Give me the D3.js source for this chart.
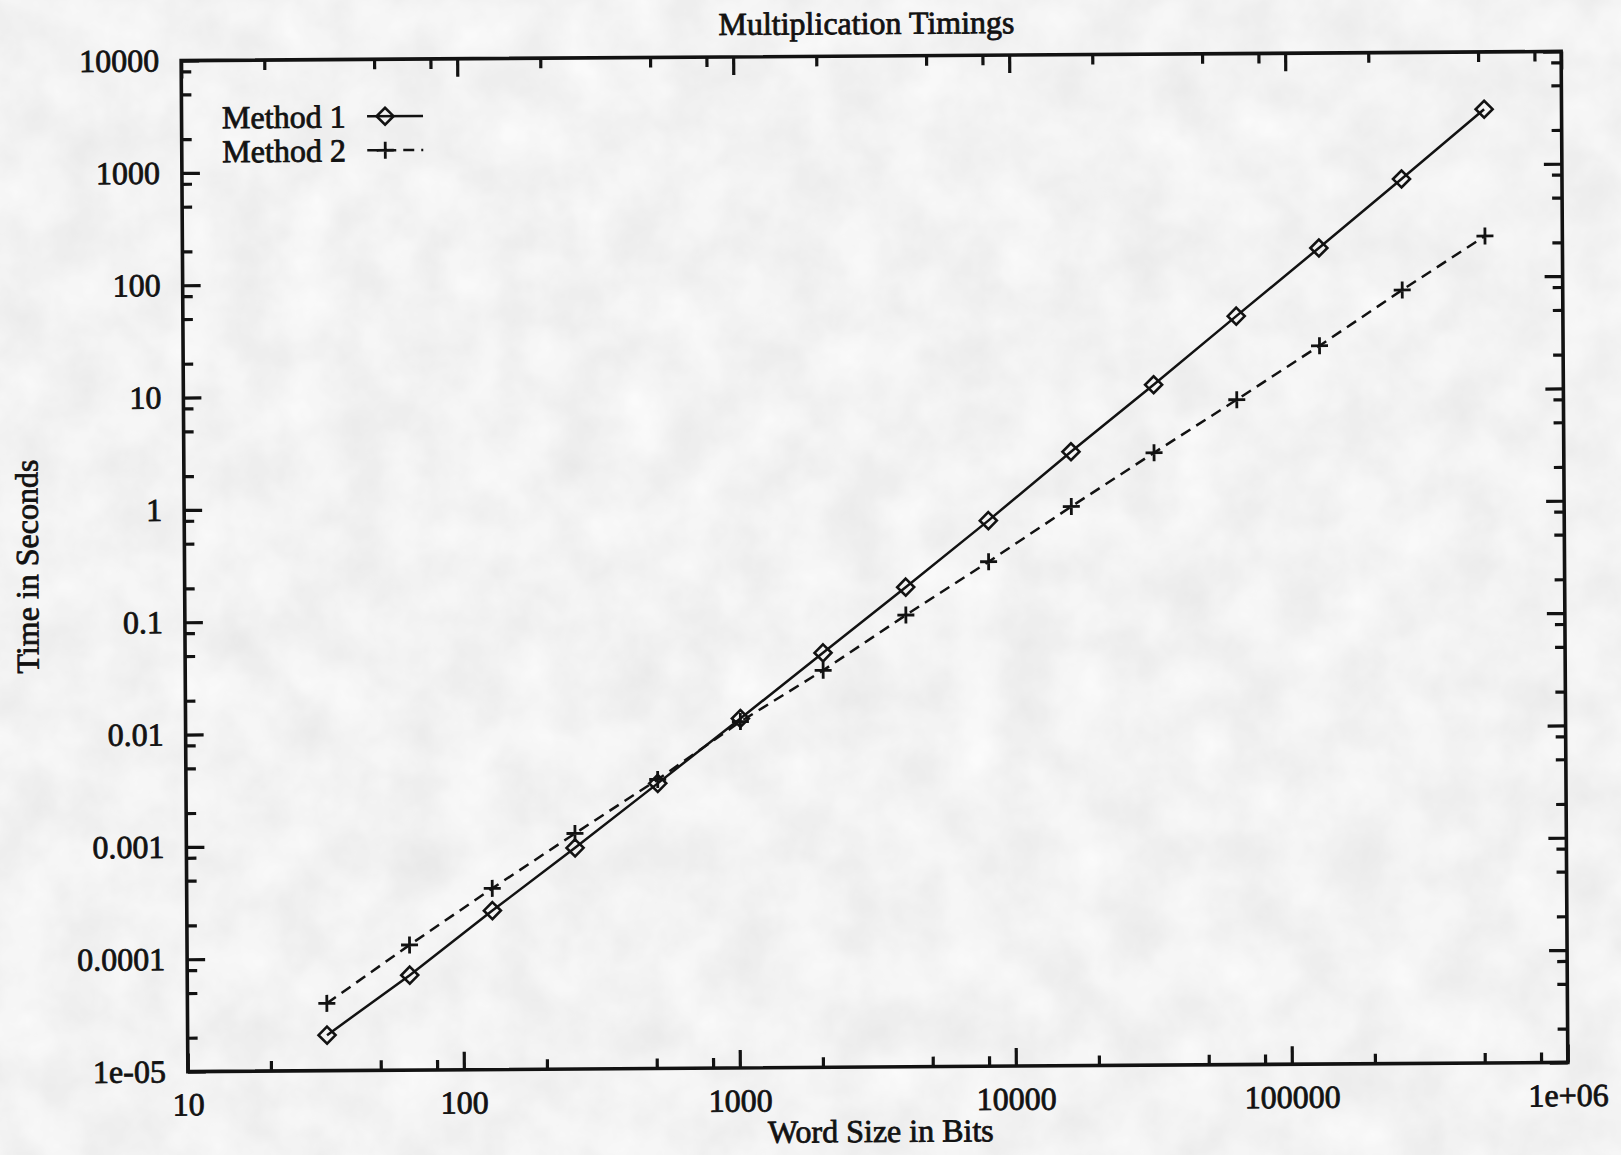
<!DOCTYPE html>
<html>
<head>
<meta charset="utf-8">
<script src="https://cdn.jsdelivr.net/npm/d3@7"></script>
<style>
  html, body { margin: 0; padding: 0; background: #e4e4e4; }
  svg { display: block; }
</style>
</head>
<body>
<svg id="chart" width="1621" height="1155"></svg>
<script>
// Data
const wordSizes = [32, 64, 128, 256, 512, 1024, 2048, 4096, 8192, 16384, 32768, 65536, 131072, 262144, 524288];
const method1 = [2.07e-5, 7.0e-5, 2.6e-4, 9.3e-4, 3.45e-3, 0.0129, 0.049, 0.186, 0.72, 2.92, 11.4, 46, 184, 748, 3090];
const method2 = [3.97e-5, 1.30e-4, 4.1e-4, 1.25e-3, 3.74e-3, 0.0121, 0.0342, 0.105, 0.31, 0.95, 2.83, 8.3, 24.8, 76.9, 230];

const seriesNames = ["Method 1", "Method 2"];
const xTicks = [10, 100, 1000, 10000, 100000, 1e6];
const xTickLabels = ["10", "100", "1000", "10000", "100000", "1e+06"];
const yTicks = [1e-5, 1e-4, 1e-3, 1e-2, 0.1, 1, 10, 100, 1000, 10000];
const yTickLabels = ["1e-05", "0.0001", "0.001", "0.01", "0.1", "1", "10", "100", "1000", "10000"];
const minorSteps = [2, 5, 8];

const ink = "#121212";
const font = "'Liberation Serif', 'Times New Roman', serif";
const fontSize = 32;

const pLeft = 184.5, pRight = 1564.5, pTop = 56, pBottom = 1067;

const svg = d3.select("#chart");

// paper texture of the scan
const defs = svg.append("defs");
const filt = defs.append("filter").attr("id", "paper")
  .attr("filterUnits", "userSpaceOnUse")
  .attr("x", 0).attr("y", 0).attr("width", 1621).attr("height", 1155);
filt.append("feTurbulence").attr("type", "fractalNoise")
  .attr("baseFrequency", 0.018).attr("numOctaves", 4).attr("seed", 7);
filt.append("feColorMatrix").attr("type", "saturate").attr("values", 0);
const ct = filt.append("feComponentTransfer");
["R", "G", "B"].forEach(c => ct.append("feFunc" + c).attr("type", "linear").attr("slope", 0.22).attr("intercept", 0.785));
ct.append("feFuncA").attr("type", "table").attr("tableValues", "1 1");
svg.append("rect").attr("width", 1621).attr("height", 1155).attr("filter", "url(#paper)");

// the scan is slightly tilted
const g = svg.append("g").attr("transform", "rotate(-0.38, 874.5, 561.5)");

const x = d3.scaleLog().domain([10, 1e6]).range([pLeft, pRight]);
const y = d3.scaleLog().domain([1e-5, 1e4]).range([pBottom, pTop]);

const minorOf = (lo, hi) => {
  const out = [];
  for (let p = lo; p < hi; p *= 10) minorSteps.forEach(m => out.push(p * m));
  return out;
};
const xMinor = minorOf(10, 1e6);
const yMinor = minorOf(1e-5, 1e4);

function styleAxis(sel) {
  sel.attr("color", ink);
  sel.select(".domain").remove();
  sel.selectAll("line").attr("stroke-width", 3.2);
  sel.selectAll("text")
    .attr("font-family", font)
    .attr("font-size", fontSize)
    .attr("fill", ink)
    .attr("stroke", ink)
    .attr("stroke-width", 0.8);
}

// major ticks with labels
g.append("g").attr("transform", `translate(0,${pBottom})`)
  .call(d3.axisBottom(x).tickValues(xTicks).tickSize(-18).tickPadding(21)
    .tickFormat((d, i) => xTickLabels[i]))
  .call(styleAxis);
g.append("g").attr("transform", `translate(${pLeft},0)`)
  .call(d3.axisLeft(y).tickValues(yTicks).tickSize(-18).tickPadding(22)
    .tickFormat((d, i) => yTickLabels[i]))
  .call(styleAxis);
// mirrored major ticks
g.append("g").attr("transform", `translate(0,${pTop})`)
  .call(d3.axisTop(x).tickValues(xTicks).tickSize(-18).tickFormat(""))
  .call(styleAxis);
g.append("g").attr("transform", `translate(${pRight},0)`)
  .call(d3.axisRight(y).tickValues(yTicks).tickSize(-18).tickFormat(""))
  .call(styleAxis);
// minor ticks on all four sides
g.append("g").attr("transform", `translate(0,${pBottom})`)
  .call(d3.axisBottom(x).tickValues(xMinor).tickSize(-10).tickFormat("")).call(styleAxis);
g.append("g").attr("transform", `translate(0,${pTop})`)
  .call(d3.axisTop(x).tickValues(xMinor).tickSize(-10).tickFormat("")).call(styleAxis);
g.append("g").attr("transform", `translate(${pLeft},0)`)
  .call(d3.axisLeft(y).tickValues(yMinor).tickSize(-10).tickFormat("")).call(styleAxis);
g.append("g").attr("transform", `translate(${pRight},0)`)
  .call(d3.axisRight(y).tickValues(yMinor).tickSize(-10).tickFormat("")).call(styleAxis);

// border
g.append("rect")
  .attr("x", pLeft).attr("y", pTop)
  .attr("width", pRight - pLeft).attr("height", pBottom - pTop)
  .attr("fill", "none").attr("stroke", ink).attr("stroke-width", 3.6);

// texts
const txt = (sel) => sel.attr("font-family", font).attr("font-size", fontSize)
  .attr("fill", ink).attr("stroke", ink).attr("stroke-width", 0.8);

g.append("text").attr("x", 870).attr("y", 34).attr("text-anchor", "middle")
  .text("Multiplication Timings").call(txt);
g.append("text").attr("x", 877).attr("y", 1142).attr("text-anchor", "middle")
  .text("Word Size in Bits").call(txt);
g.append("text").attr("transform", "translate(38,561) rotate(-90)")
  .attr("text-anchor", "middle")
  .text("Time in Seconds").call(txt);

// series
const line = d3.line().x(d => x(d[0])).y(d => y(d[1]));
const pts1 = wordSizes.map((w, i) => [w, method1[i]]);
const pts2 = wordSizes.map((w, i) => [w, method2[i]]);

const diamond = r => `M0,${-r}L${r},0L0,${r}L${-r},0Z`;
const plus = r => `M${-r},0H${r}M0,${-r}V${r}`;

g.append("path").datum(pts2).attr("d", line)
  .attr("fill", "none").attr("stroke", ink).attr("stroke-width", 2.5)
  .attr("stroke-dasharray", "11,7");
g.append("path").datum(pts1).attr("d", line)
  .attr("fill", "none").attr("stroke", ink).attr("stroke-width", 2.5);

g.append("g").selectAll("path").data(pts1).join("path")
  .attr("transform", d => `translate(${x(d[0])},${y(d[1])})`)
  .attr("d", diamond(8.5))
  .attr("fill", "none").attr("stroke", ink).attr("stroke-width", 2.6);
g.append("g").selectAll("path").data(pts2).join("path")
  .attr("transform", d => `translate(${x(d[0])},${y(d[1])})`)
  .attr("d", plus(8.5))
  .attr("fill", "none").attr("stroke", ink).attr("stroke-width", 2.8);

// legend (gnuplot key, top left)
const key = g.append("g");
seriesNames.forEach((name, i) => {
  const cy = 113 + i * 34;
  key.append("text").attr("x", 225).attr("y", cy + 11).text(name).call(txt);
  key.append("line").attr("x1", 370).attr("x2", 426).attr("y1", cy).attr("y2", cy)
    .attr("stroke", ink).attr("stroke-width", 2.5)
    .attr("stroke-dasharray", i === 1 ? "11,7" : null);
  key.append("path").attr("transform", `translate(388,${cy})`)
    .attr("d", i === 0 ? diamond(8.5) : plus(8.5))
    .attr("fill", "none").attr("stroke", ink).attr("stroke-width", i === 0 ? 2.6 : 2.8);
});
</script>
</body>
</html>
